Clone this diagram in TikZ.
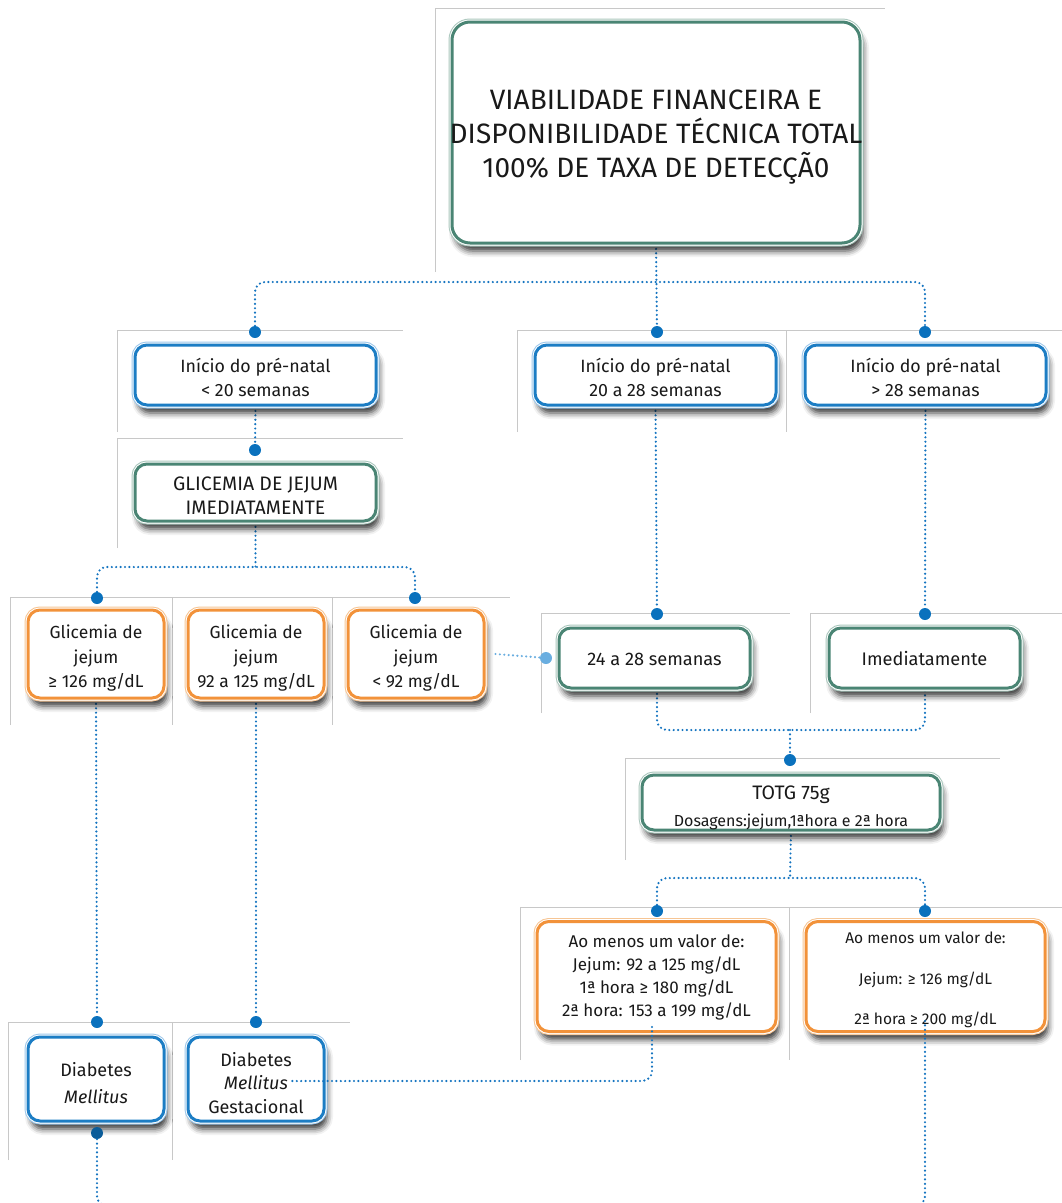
\documentclass[tikz,border=0pt]{standalone}
\usepackage{fontspec}
\setmainfont{Fira Sans}
\usetikzlibrary{shadows.blur,calc}

\definecolor{bblue}{HTML}{1C7DC4}
\definecolor{bbluelt}{HTML}{9CC7EA}
\definecolor{bgreen}{HTML}{4A8574}
\definecolor{bgreenlt}{HTML}{A9C6BC}
\definecolor{borange}{HTML}{F2923A}
\definecolor{borangelt}{HTML}{F6C594}
\definecolor{cblue}{HTML}{1474C0}
\definecolor{dblue}{HTML}{0A71BD}
\definecolor{ddblue}{HTML}{0B5C99}
\definecolor{lblue}{HTML}{6AAEE0}
\definecolor{framegray}{HTML}{C8C8C8}

\pgfdeclarelayer{background}
\pgfdeclarelayer{foreground}
\pgfsetlayers{background,main,foreground}

\newcommand{\fsz}[2]{\fontsize{#1}{#2}\selectfont}

\tikzset{
  boxbase/.style={rounded corners=12pt, fill=white, inner sep=0pt,
    blur shadow={shadow xshift=3pt, shadow yshift=-8pt, shadow blur radius=6pt, shadow opacity=80}},
  greenbox/.style={boxbase, draw=bgreen, line width=3pt,
    preaction={draw=bgreenlt, line width=7pt}, preaction={draw=white, line width=5pt}},
  bluebox/.style={boxbase, draw=bblue, line width=3pt,
    preaction={draw=bbluelt, line width=7pt}, preaction={draw=white, line width=5pt}},
  orangebox/.style={boxbase, draw=borange, line width=3pt,
    preaction={draw=borangelt, line width=7pt}, preaction={draw=white, line width=5pt}},
  txt/.style={align=center, inner sep=0pt, text=black!90},
  conn/.style={draw=cblue, line width=2.4pt, line cap=round, dash pattern=on 0pt off 4.4pt, rounded corners=10pt},
  lconn/.style={conn, draw=lblue},
  dotnode/.style={circle, fill=dblue, minimum size=12pt, inner sep=0pt},
  frame/.style={draw=framegray, line width=0.8pt},
}

\begin{document}
\begin{tikzpicture}[x=1pt,y=-1pt]
\useasboundingbox (0,0) rectangle (1062,1203);
\clip (0,0) rectangle (1062,1203);

% ---------- boxes ----------
\node[greenbox, rounded corners=18pt, minimum width=408, minimum height=221] (top) at (656,132.5) {};
\node[bluebox, minimum width=241, minimum height=60] (A) at (255.5,375) {};
\node[bluebox, minimum width=241, minimum height=60] (B) at (655.5,375) {};
\node[bluebox, minimum width=241, minimum height=60] (C) at (925.5,375) {};
\node[greenbox, minimum width=241, minimum height=57] (G1) at (255.5,492.5) {};
\node[orangebox, minimum width=136, minimum height=88] (D) at (96,654) {};
\node[orangebox, minimum width=136, minimum height=88] (E) at (256,654) {};
\node[orangebox, minimum width=136, minimum height=88] (F) at (416,654) {};
\node[greenbox, minimum width=191, minimum height=60] (W) at (654.5,658) {};
\node[greenbox, minimum width=191, minimum height=60] (Im) at (924.5,658) {};
\node[greenbox, minimum width=298, minimum height=55] (T) at (791,802.5) {};
\node[orangebox, minimum width=239, minimum height=110] (G2) at (656.5,976.5) {};
\node[orangebox, minimum width=239, minimum height=110] (H) at (925.5,976.5) {};
\node[bluebox, minimum width=136, minimum height=84] (DM) at (96,1079) {};
\node[bluebox, minimum width=136, minimum height=84] (DMG) at (256,1079) {};

% ---------- box texts ----------
\node[txt, font=\fsz{28}{34}] (topt) at ($(top.center)+(0,5)$)
  {VIABILIDADE FINANCEIRA E\\DISPONIBILIDADE TÉCNICA TOTAL\\100\% DE TAXA DE DETECÇÃ0};
\node[txt, font=\fsz{17.8}{24}] (At) at ($(A.center)+(0,2)$) {Início do pré-natal\\< 20 semanas};
\node[txt, font=\fsz{17.8}{24}] (Bt) at ($(B.center)+(0,2)$) {Início do pré-natal\\20 a 28 semanas};
\node[txt, font=\fsz{17.8}{24}] (Ct) at ($(C.center)+(0,2)$) {Início do pré-natal\\> 28 semanas};
\node[txt, font=\fsz{19.5}{24}] (G1t) at ($(G1.center)+(0,3)$) {GLICEMIA DE JEJUM\\IMEDIATAMENTE};
\node[txt, font=\fsz{17.5}{24.5}] (Dt) at ($(D.center)+(0,4.5)$) {Glicemia de\\jejum\\≥ 126 mg/dL};
\node[txt, font=\fsz{17.5}{24.5}] (Et) at ($(E.center)+(0,4.5)$) {Glicemia de\\jejum\\92 a 125 mg/dL};
\node[txt, font=\fsz{17.5}{24.5}] (Ft) at ($(F.center)+(0,4.5)$) {Glicemia de\\jejum\\< 92 mg/dL};
\node[txt, font=\fsz{18.2}{20}] (Wt) at ($(W.center)+(0,1)$) {24 a 28 semanas};
\node[txt, font=\fsz{18.2}{20}] (Imt) at ($(Im.center)+(0,1)$) {Imediatamente};
\node[txt, font=\fsz{19.5}{27}] (Tt) at ($(T.center)+(0,5.5)$)
  {TOTG 75g\\{\fsz{16}{27}Dosagens:jejum,1ªhora e 2ª hora}};
\node[txt, font=\fsz{17}{23}] (G2t) at ($(G2.center)+(0,1)$)
  {Ao menos um valor de:\\Jejum: 92 a 125 mg/dL\\1ª hora ≥ 180 mg/dL\\2ª hora: 153 a 199 mg/dL};
\node[txt, font=\fsz{15.5}{20.25}] (Ht) at ($(H.center)+(0,3.5)$)
  {Ao menos um valor de:\\[20.25pt]Jejum: ≥ 126 mg/dL\\[20.25pt]2ª hora ≥ 200 mg/dL};
\node[txt, font=\fsz{18}{26.5}] (DMt) at ($(DM.center)+(0,4)$) {Diabetes\\\textit{Mellitus}};
\node[txt, font=\fsz{18}{23.5}] (DMGt) at ($(DMG.center)+(0,4)$) {Diabetes\\\textit{Mellitus}\\Gestacional};

% ---------- dots ----------
\begin{pgfonlayer}{foreground}
\node[dotnode] (dA) at (255,332) {};
\node[dotnode] (dB) at (657,332) {};
\node[dotnode] (dC) at (925,332) {};
\node[dotnode] (dG) at (255,450) {};
\node[dotnode] (dD) at (97,598) {};
\node[dotnode] (dF) at (415,598) {};
\node[dotnode] (dW) at (657,614) {};
\node[dotnode] (dI) at (925,614) {};
\node[dotnode, fill=lblue] (dL) at (546,658) {};
\node[dotnode] (dT) at (790,760) {};
\node[dotnode] (dG2) at (657,911) {};
\node[dotnode] (dH) at (925,911) {};
\node[dotnode] (dDM) at (97,1022) {};
\node[dotnode] (dDMG) at (256,1022) {};
\node[dotnode, fill=ddblue] (dDMb) at (97,1133) {};
\end{pgfonlayer}

% junctions and free ends
\coordinate (j1) at (657,282);
\coordinate (j2) at (255.5,567);
\coordinate (j3) at (790,730);
\coordinate (j4) at (790,878);
\coordinate (eH) at (700,1206);
\coordinate (eDM) at (300,1206);

% ---------- frames and connectors ----------
\begin{pgfonlayer}{background}
\draw[frame] (435,272) |- (885,8);
\draw[frame] (117,432) |- (403,330);
\draw[frame] (517,432) |- (1062,330);
\draw[frame] (786,330) -- (786,432);
\draw[frame] (117,548) |- (403,438);
\draw[frame] (10,725) |- (510,597);
\draw[frame] (172,597) -- (172,725);
\draw[frame] (332,597) -- (332,725);
\draw[frame] (541,713) |- (790,613);
\draw[frame] (810,713) |- (1062,613);
\draw[frame] (625,860) |- (1000,758);
\draw[frame] (520,1060) |- (1062,907);
\draw[frame] (789,907) -- (789,1060);
\draw[frame] (8,1160) |- (350,1022);
\draw[frame] (172,1022) -- (172,1160);

\draw[conn] (top.south) -- (dB);
\draw[conn] (dA) |- (j1) -| (dC);
\draw[conn] (A.south) -- (dG);
\draw[conn] (G1.south) -- (j2);
\draw[conn] (dD) |- (j2) -| (dF);
\draw[conn] (D.south) -- (dDM);
\draw[conn] (E.south) -- (dDMG);
\draw[lconn] ([xshift=10pt]F.east) -- (dL);
\draw[conn] (B.south) -- (dW);
\draw[conn] (C.south) -- (dI);
\draw[conn] ($(W.south)+(2.5,0)$) |- (j3) -| ($(Im.south)+(0.5,-10)$);
\draw[conn] (j3) -- (dT);
\draw[conn] (T.south) -- (j4);
\draw[conn] (dG2) |- (j4) -| (dH);
\end{pgfonlayer}

\begin{pgfonlayer}{foreground}
\draw[conn] ($(G2.south)+(-4.5,-6)$) |- ($(DMG.center)+(33,2)$);
\draw[conn] ($(H.south)+(-0.5,-12)$) |- (eH);
\draw[conn] (dDMb) |- (eDM);
\end{pgfonlayer}
\end{tikzpicture}
\end{document}
